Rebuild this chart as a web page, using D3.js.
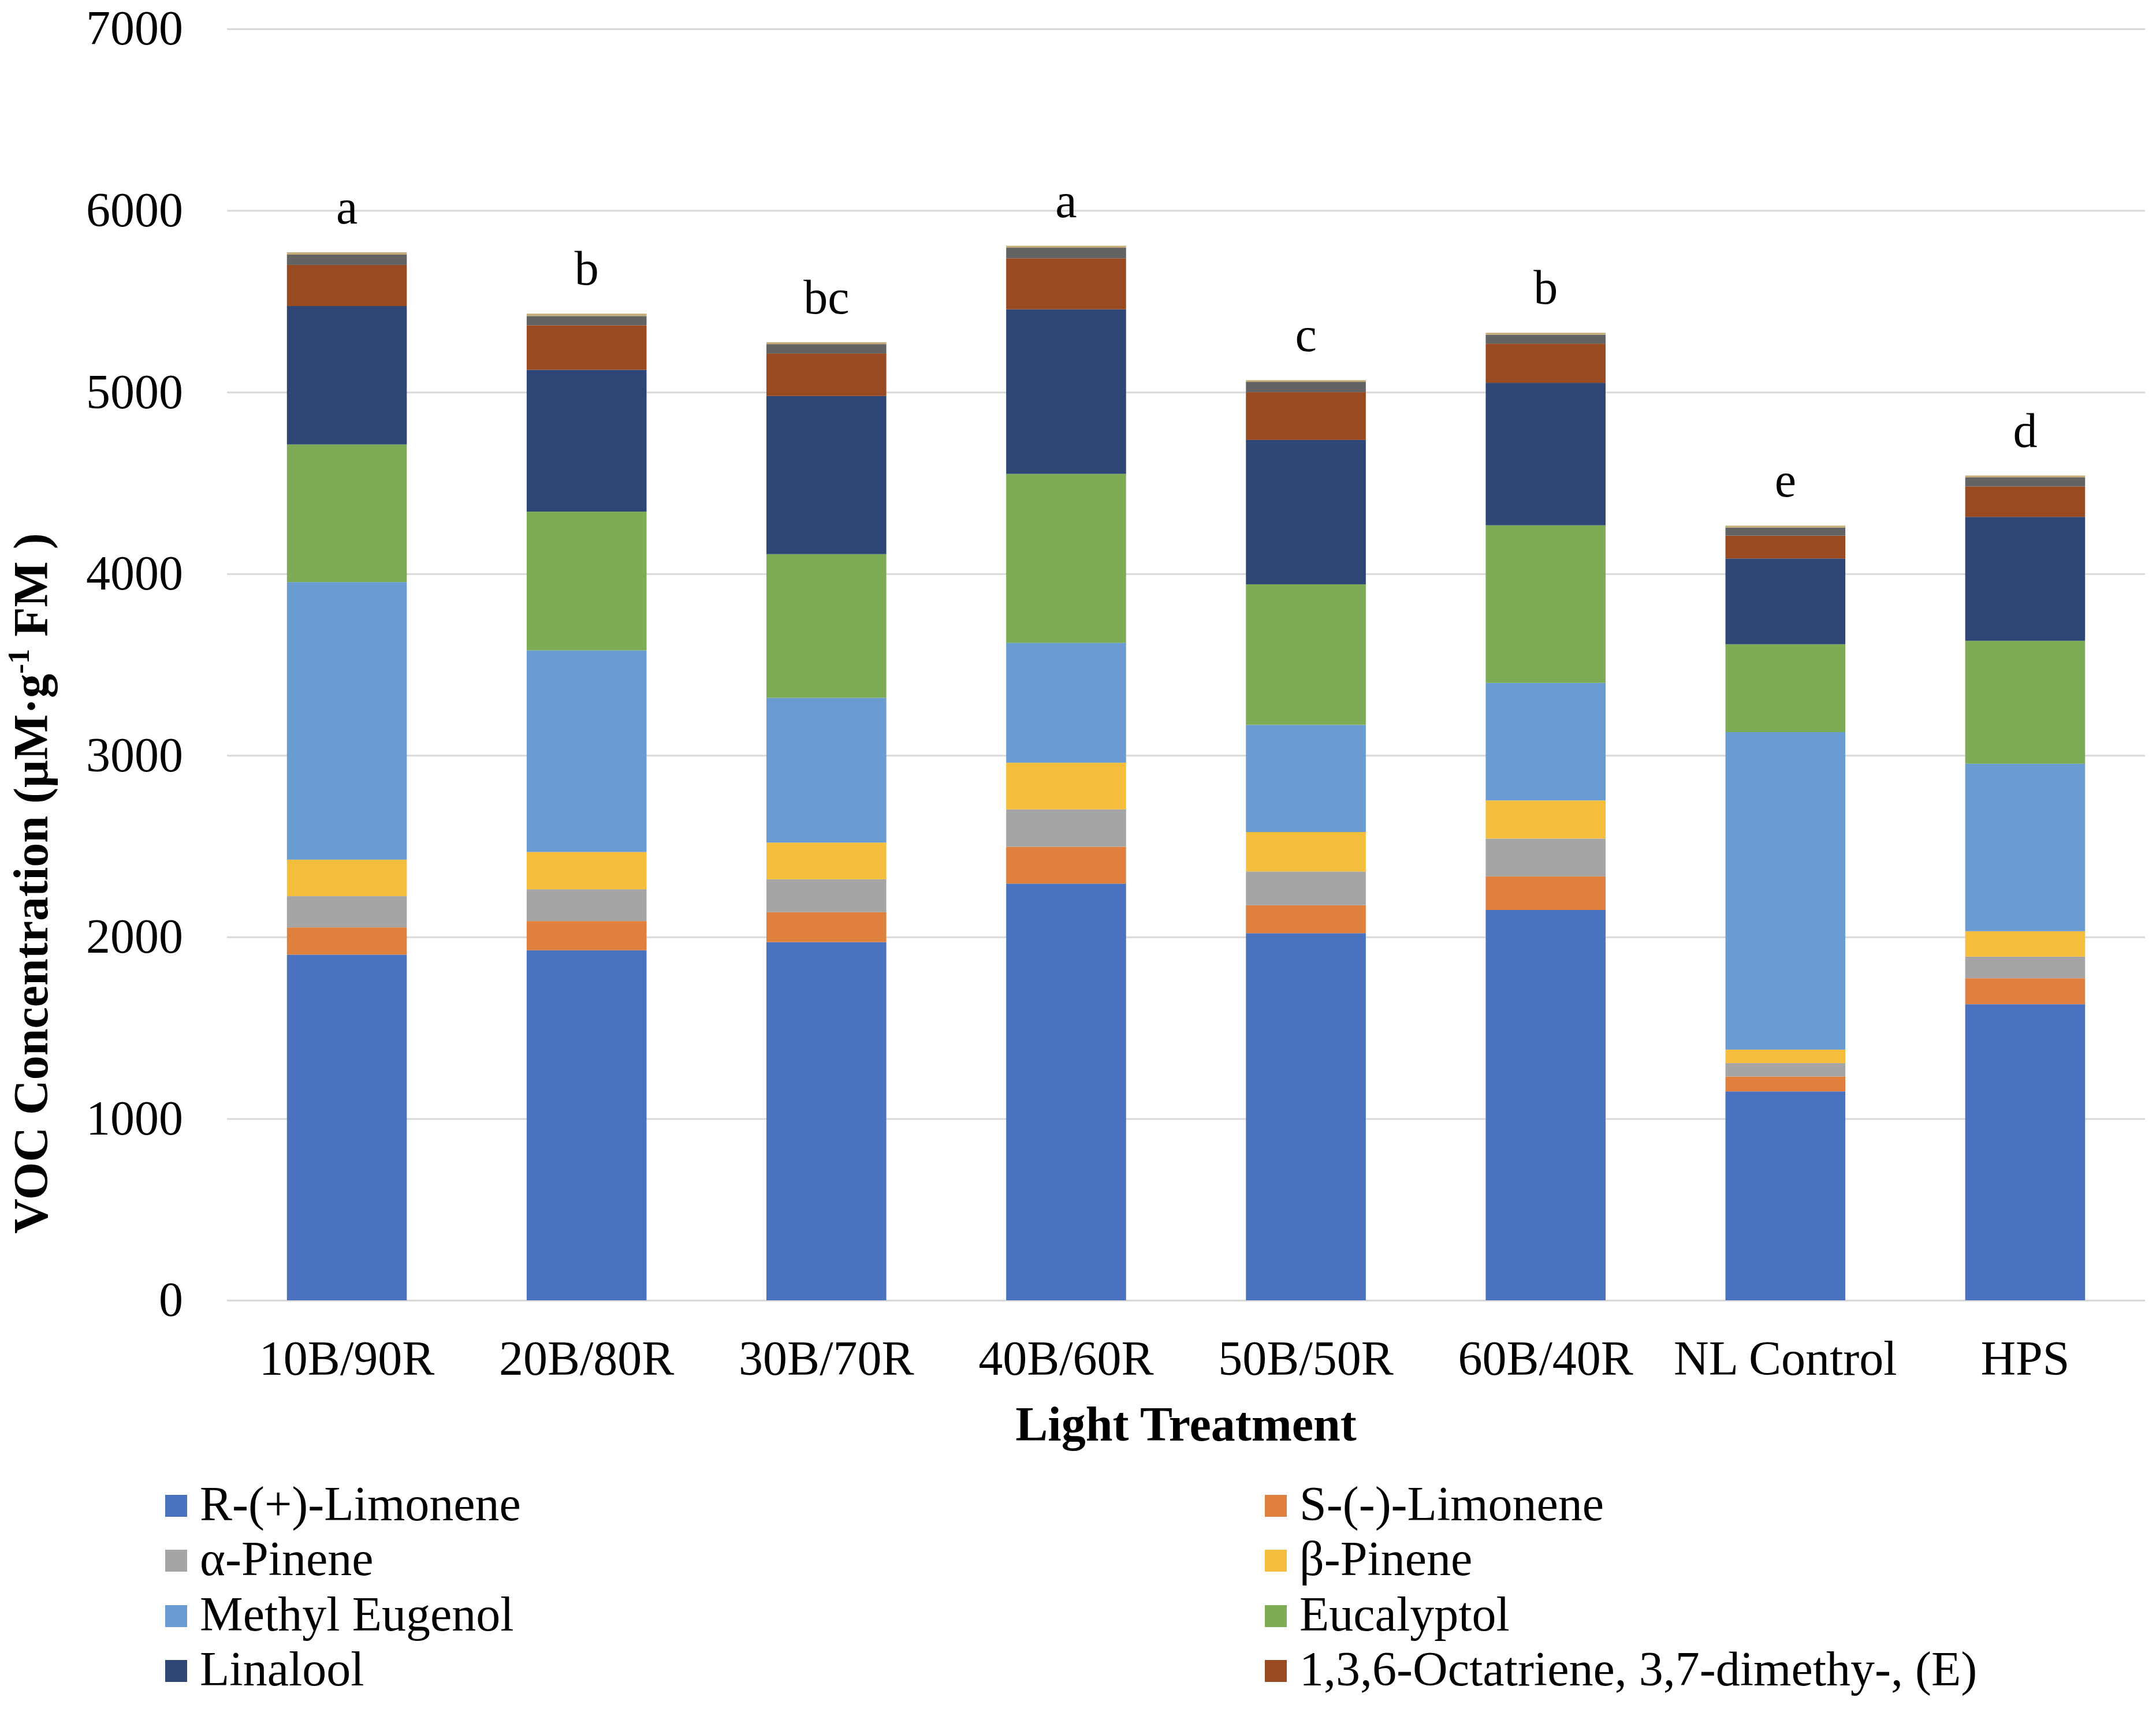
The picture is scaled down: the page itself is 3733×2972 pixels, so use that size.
<!DOCTYPE html>
<html>
<head>
<meta charset="utf-8">
<script src="https://d3js.org/d3.v7.min.js"></script>
<style>
  body { margin: 0; background: #ffffff; overflow: hidden; }
  text { font-family: "Liberation Serif", "Times New Roman", serif; fill: #000; }
</style>
</head>
<body>
<div id="chart"></div>
<script>
// treatments along the x axis
var treatments = ["10B/90R", "20B/80R", "30B/70R", "40B/60R", "50B/50R", "60B/40R", "NL Control", "HPS"];
var sigLetters = ["a", "b", "bc", "a", "c", "b", "e", "d"];

// one array per compound, stacked bottom -> top (uM/g FM)
var rLimonene   = [1903, 1927, 1972, 2294, 2021, 2149, 1150, 1630];
var sLimonene   = [150, 161, 165, 203, 154, 185, 82, 143];
var aPinene     = [172, 175, 181, 206, 186, 208, 74, 119];
var bPinene     = [201, 205, 202, 257, 217, 210, 74, 140];
var methylEug   = [1528, 1110, 797, 660, 590, 647, 1748, 922];
var eucalyptol  = [758, 764, 791, 930, 774, 868, 484, 677];
var linalool    = [762, 781, 871, 906, 795, 784, 472, 682];
var octatriene  = [226, 245, 234, 281, 263, 216, 126, 168];
var other1      = [57, 51, 51, 58, 57, 49, 44, 49];
var other2      = [13, 13, 11, 11, 9, 11, 11, 11];

var seriesNames = ["R-(+)-Limonene", "S-(-)-Limonene", "\u03b1-Pinene", "\u03b2-Pinene",
                   "Methyl Eugenol", "Eucalyptol", "Linalool", "1,3,6-Octatriene, 3,7-dimethy-, (E)",
                   "other1", "other2"];
var seriesValues = [rLimonene, sLimonene, aPinene, bPinene, methylEug, eucalyptol, linalool, octatriene, other1, other2];
var seriesColors = ["#4a72be", "#e0803f", "#a5a5a5", "#f5be3c", "#6a9bd1", "#7eab56",
                    "#2e4676", "#9a4a20", "#636363", "#c4ad78"];
var legendCount = 8;   // only the first eight are listed in the legend
var yTicks = [0, 1000, 2000, 3000, 4000, 5000, 6000, 7000];

(function () {
  var W = 3733, H = 2972;
  var pLeft = 393, pRight = 3714, pTop = 50, pBottom = 2252;

  var svg = d3.select("#chart").append("svg")
      .attr("width", W).attr("height", H);
  svg.append("rect").attr("width", W).attr("height", H).attr("fill", "#fff");

  var x = d3.scaleBand().domain(treatments).range([pLeft, pRight])
      .paddingInner(0.5).paddingOuter(0.25);
  var y = d3.scaleLinear().domain([0, 7000]).range([pBottom, pTop]);

  // build rows for the stack
  var rows = treatments.map(function (t, i) {
    var r = { treatment: t };
    seriesNames.forEach(function (n, k) { r[n] = seriesValues[k][i]; });
    return r;
  });
  var stacked = d3.stack().keys(seriesNames)(rows);

  // gridlines + y labels
  var yAxis = svg.append("g")
      .attr("transform", "translate(" + pLeft + ",0)")
      .call(d3.axisLeft(y).tickValues(yTicks).tickFormat(d3.format("d"))
            .tickSize(-(pRight - pLeft)).tickPadding(76));
  yAxis.select(".domain").remove();
  yAxis.selectAll(".tick line").attr("stroke", "#d9d9d9").attr("stroke-width", 3);
  yAxis.selectAll(".tick text")
      .attr("font-size", 84).attr("font-family", "Liberation Serif").attr("fill", "#000");

  // bars
  svg.append("g").selectAll("g")
    .data(stacked)
    .enter().append("g")
      .attr("fill", function (d, i) { return seriesColors[i]; })
    .selectAll("rect")
    .data(function (d) { return d; })
    .enter().append("rect")
      .attr("x", function (d) { return x(d.data.treatment); })
      .attr("width", x.bandwidth())
      .attr("y", function (d) { return y(d[1]); })
      .attr("height", function (d) { return y(d[0]) - y(d[1]); });

  // significance letters above each stack
  var last = stacked[stacked.length - 1];
  svg.append("g").selectAll("text")
    .data(last)
    .enter().append("text")
      .attr("x", function (d) { return x(d.data.treatment) + x.bandwidth() / 2; })
      .attr("y", function (d) { return y(d[1]) - 50; })
      .attr("text-anchor", "middle")
      .attr("font-size", 84)
      .text(function (d, i) { return sigLetters[i]; });

  // x axis labels
  var xAxis = svg.append("g")
      .attr("transform", "translate(0," + pBottom + ")")
      .call(d3.axisBottom(x).tickSize(0).tickPadding(69));
  xAxis.select(".domain").remove();
  xAxis.selectAll(".tick text")
      .attr("font-size", 84).attr("font-family", "Liberation Serif").attr("fill", "#000");

  // axis titles
  svg.append("text")
      .attr("x", (pLeft + pRight) / 2).attr("y", 2495)
      .attr("text-anchor", "middle")
      .attr("font-size", 84).attr("font-weight", "bold")
      .text("Light Treatment");

  var yt = svg.append("text")
      .attr("transform", "translate(82,1530) rotate(-90)")
      .attr("text-anchor", "middle")
      .attr("font-size", 84).attr("font-weight", "bold");
  yt.append("tspan").text("VOC Concentration (\u03bcM\u00b7g");
  yt.append("tspan").attr("font-size", 52).attr("dy", -32).text("-1");
  yt.append("tspan").attr("dy", 32).text(" FM )");

  // legend, two columns
  var legendX = [286, 2190];
  var legendY = [2633, 2728, 2824, 2919];
  var leg = svg.append("g").selectAll("g")
    .data(seriesNames.slice(0, legendCount))
    .enter().append("g")
      .attr("transform", function (d, i) {
        return "translate(" + legendX[i % 2] + "," + legendY[Math.floor(i / 2)] + ")";
      });
  leg.append("rect")
      .attr("x", 0).attr("y", -44).attr("width", 38).attr("height", 38)
      .attr("fill", function (d, i) { return seriesColors[i]; });
  leg.append("text")
      .attr("x", 60).attr("y", 0)
      .attr("font-size", 84)
      .text(function (d) { return d; });
})();
</script>
</body>
</html>
